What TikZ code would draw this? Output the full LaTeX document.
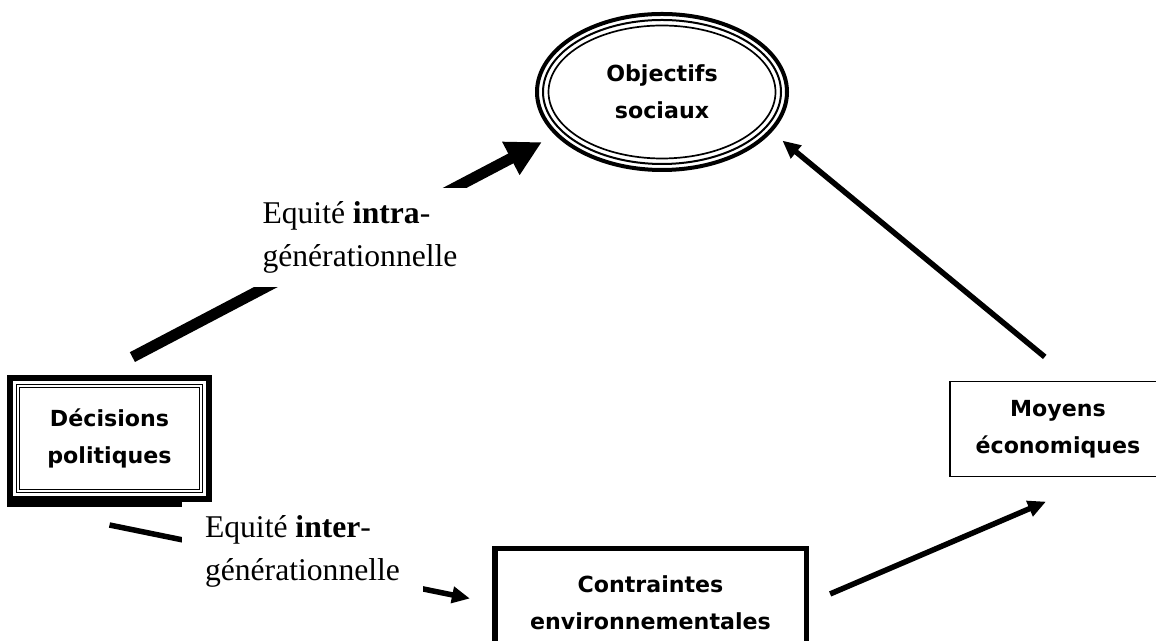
\documentclass[tikz,border=0pt]{standalone}
\usepackage{fontspec}
\setmainfont{Liberation Serif}
\newfontfamily\boxfont{DejaVu Sans}
\usetikzlibrary{arrows.meta,shapes.geometric}

\begin{document}
\begin{tikzpicture}[
  boxtext/.style={font=\boxfont\bfseries\fontsize{12.6}{21.3}\selectfont, align=center},
  eqlabel/.style={fill=white, align=left, font=\fontsize{18}{24}\selectfont},
  fatarrow/.style={line width=0.22cm, -{Triangle[length=0.7cm,width=0.7cm]}},
  arrow/.style={line width=0.11cm, -{Triangle[length=0.36cm,width=0.32cm]}}
]
\useasboundingbox (0,0) rectangle (23.12,12.82);
\node[ellipse, draw, line width=0.08cm, minimum width=5cm, minimum height=3.12cm, boxtext] (obj) at (13.24,10.98) {Objectifs\\sociaux};
\draw[line width=0.04cm] (obj.center) ellipse [x radius=2.38cm, y radius=1.44cm];
\draw[line width=0.034cm] (obj.center) ellipse [x radius=2.27cm, y radius=1.33cm];
\node[draw, line width=0.12cm, minimum width=3.98cm, minimum height=2.42cm, boxtext] (dec) at (2.19,4.05) {Décisions\\politiques};
\fill (dec.south west) rectangle ++(3.5,-0.1);
\foreach \d in {0.19,0.25}
  \draw[line width=0.025cm] ([shift={(\d,\d)}]dec.south west) rectangle ([shift={(-\d,-\d)}]dec.north east);
\node[draw, line width=0.03cm, minimum width=4.32cm, minimum height=1.9cm, boxtext] (moy) at (21.16,4.24) {Moyens\\économiques};
\node[draw, line width=0.11cm, minimum width=6.23cm, minimum height=2.17cm, boxtext] (con) at (13.01,0.76) {Contraintes\\environnementales};
\draw[fatarrow, shorten <=0.77cm, shorten >=0.3cm] (dec.100) -- (obj.202);
\draw[arrow, shorten >=0.45cm] ([yshift=-0.46cm]dec.south) -- (con.west);
\draw[arrow, shorten <=0.46cm, shorten >=1.24cm] (con.east) -- (moy.-47);
\draw[arrow, shorten <=0.75cm, shorten >=0.27cm] (moy.72) -- (obj.-20);
\node[eqlabel, minimum width=4.4cm, minimum height=1.98cm] (intra) at (7.2,8.07) {Equité \textbf{intra}-\\générationnelle};
\node[eqlabel, minimum width=4.82cm, minimum height=1.86cm] (inter) at (6.05,1.79) {Equité \textbf{inter}-\\générationnelle};
\end{tikzpicture}
\end{document}
